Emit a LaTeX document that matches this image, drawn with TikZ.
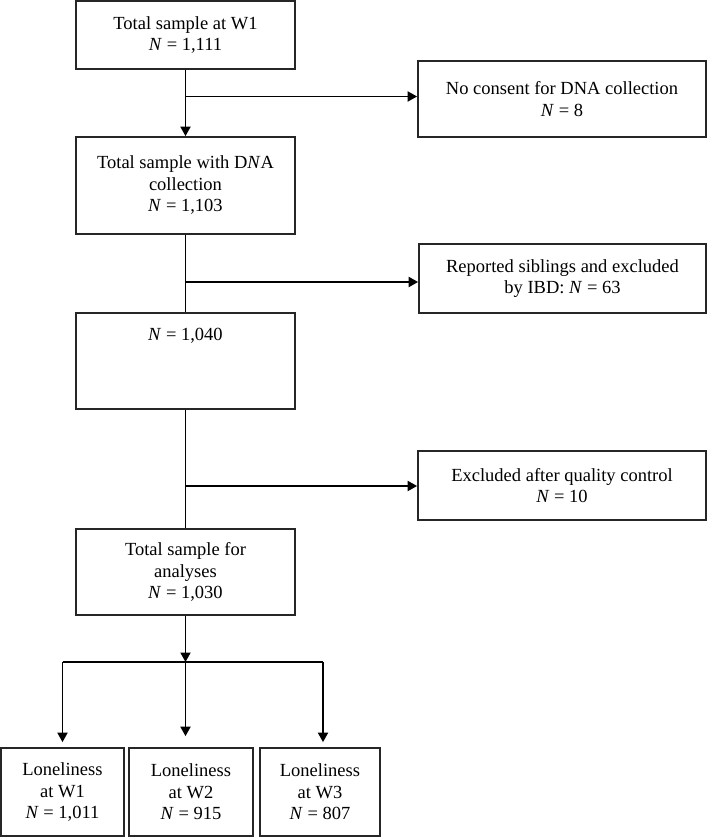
\documentclass[tikz,border=0pt]{standalone}
\usepackage{fontspec}
\setmainfont{Liberation Serif}
\usetikzlibrary{arrows.meta,calc}
\begin{document}
\begin{tikzpicture}[x=1pt,y=-1pt,
  box/.style={draw=black!85,line width=1.7pt,rectangle,align=center,inner sep=0pt,
    font=\fontsize{18.5}{21.5}\selectfont},
  txt/.style={align=center,inner sep=0pt,font=\fontsize{18.5}{21.5}\selectfont},
  conn/.style={line width=1.8pt,black},
  arr/.style={conn,-{Triangle[length=9.5pt,width=10pt]}}]
\useasboundingbox (0,0) rectangle (709,837);
% main column
\node[box,minimum width=219pt,minimum height=68pt] (b1) at (185.5,35) {Total sample at W1\\\textit{N} = 1,111};
\node[box,minimum width=219pt,minimum height=97pt] (b2) at (185.5,185.5) {Total sample with D\textit{N}A\\collection\\\textit{N} = 1,103};
\node[box,minimum width=219pt,minimum height=96pt] (b5) at (185.5,361) {};
\node[txt] (t5) at (185.5,336) {\textit{N} = 1,040};
\node[box,minimum width=219pt,minimum height=86pt] (b6) at (185.5,572) {Total sample for\\analyses\\\textit{N} = 1,030};
% side boxes
\node[box,minimum width=288pt,minimum height=76pt] (b3) at (562,99) {No consent for DNA collection\\\textit{N} = 8};
\node[box,minimum width=287pt,minimum height=69pt] (b4) at (562.5,278.5) {Reported siblings and excluded\\by IBD: \textit{N} = 63};
\node[box,minimum width=288pt,minimum height=69pt] (b7) at (562,485.5) {Excluded after quality control\\\textit{N} = 10};
% bottom boxes
\node[box,minimum width=123pt,minimum height=88pt] (l1) at (62.5,792) {Loneliness\\at W1\\\textit{N} = 1,011};
\node[box,minimum width=124pt,minimum height=88pt] (l2) at (191,792) {Loneliness\\at W2\\\textit{N} = 915};
\node[box,minimum width=120pt,minimum height=88pt] (l3) at (320,792) {Loneliness\\at W3\\\textit{N} = 807};
% junctions
\coordinate (j1) at (185.5,96.5);
\coordinate (j2) at (185.5,282);
\coordinate (j3) at (185.5,486);
\coordinate (j4) at (185.5,662);
\coordinate (jl) at (62.5,662);
\coordinate (jr) at (323,662);
% connectors
\draw[arr] (b1.south) -- (b2.north);
\draw[arr] (j1) -- (j1 -| b3.west);
\draw[conn] (b2.south) -- (b5.north);
\draw[arr] (j2) -- (j2 -| b4.west);
\draw[conn] (b5.south) -- (b6.north);
\draw[arr] (j3) -- (j3 -| b7.west);
\draw[arr] (b6.south) -- (j4);
\draw[conn] (jl) -- (jr);
\draw[arr,shorten >=5pt] (jl) -- (jl |- l1.north);
\draw[arr,shorten >=5pt] (jr) -- (jr |- l3.north);
\draw[arr] ([yshift=6pt]j4) -- ($(j4 |- l2.north)+(0,-11)$);
\end{tikzpicture}
\end{document}
